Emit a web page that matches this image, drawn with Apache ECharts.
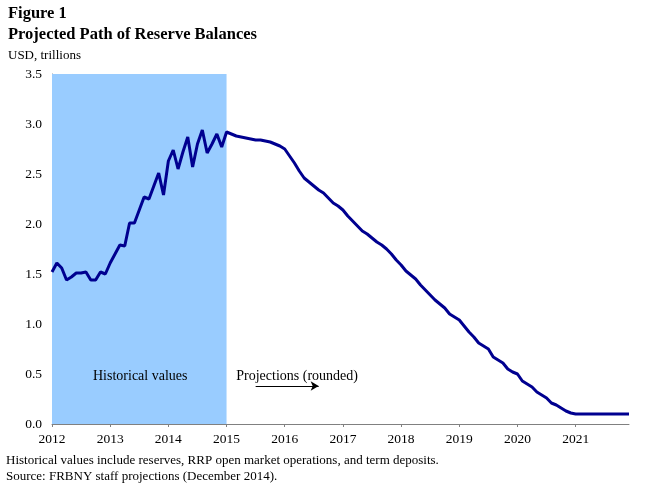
<!DOCTYPE html>
<html><head><meta charset="utf-8">
<script src="https://cdn.jsdelivr.net/npm/echarts@6/dist/echarts.min.js"></script>
<style>html,body{margin:0;padding:0;background:#fff}#c{width:660px;height:495px}</style>
</head><body><div id="c"></div>
<script>
// Monthly values, USD trillions. Month index 0 = Jan 2012.
const startYear = 2012;
const historical = [1.52,1.61,1.56,1.44,1.47,1.51,1.51,1.52,1.44,1.44,1.52,1.50,
  1.61,1.70,1.79,1.78,2.01,2.01,2.14,2.27,2.25,2.38,2.51,2.29,
  2.63,2.74,2.55,2.72,2.87,2.57,2.80,2.94,2.71,2.80,2.90,2.77];
const projection = [2.92,2.90,2.88,2.87,2.86,2.85,2.84,2.84,2.83,2.82,2.80,2.78,
  2.75,2.68,2.61,2.53,2.46,2.42,2.38,2.34,2.31,2.26,2.21,2.18,
  2.14,2.08,2.03,1.98,1.93,1.90,1.86,1.82,1.79,1.75,1.70,1.64,
  1.59,1.53,1.49,1.45,1.39,1.34,1.29,1.24,1.20,1.16,1.10,1.07,
  1.04,0.98,0.92,0.87,0.81,0.78,0.75,0.67,0.64,0.61,0.55,0.52,
  0.50,0.43,0.40,0.37,0.32,0.29,0.26,0.21,0.19,0.16,0.13,0.11,
  0.10,0.10,0.10,0.10,0.10,0.10,0.10,0.10,0.10,0.10,0.10,0.10];
const yTicks = [0,0.5,1.0,1.5,2.0,2.5,3.0,3.5];
const titleLines = ['Figure 1','Projected Path of Reserve Balances'];
const unitLabel = 'USD, trillions';
const notes = ['Historical values include reserves, RRP open market operations, and term deposits.',
  'Source: FRBNY staff projections (December 2014).'];

const values = historical.concat(projection);
const seriesData = values.map((v,i)=>[i,v]);
const histEnd = historical.length; // Jan 2015
const font = '"Liberation Serif","Times New Roman",serif';

const chart = echarts.init(document.getElementById('c'), null, {renderer:'canvas'});
chart.setOption({
  animation:false,
  backgroundColor:'#fff',
  textStyle:{fontFamily:font},
  graphic:[
    {type:'text',left:8,top:5,style:{text:titleLines[0],font:'bold 16.5px '+font,fill:'#000'}},
    {type:'text',left:8,top:26,style:{text:titleLines[1],font:'bold 16.5px '+font,fill:'#000'}},
    {type:'text',left:8,top:49,style:{text:unitLabel,font:'13px '+font,fill:'#000'}},
    {type:'text',left:6,top:454,style:{text:notes[0],font:'13px '+font,fill:'#000'}},
    {type:'text',left:6,top:470,style:{text:notes[1],font:'13px '+font,fill:'#000'}}
  ],
  grid:{left:52,right:31,top:74,bottom:71,containLabel:false},
  xAxis:{type:'value',min:0,max:values.length-1,interval:12,
    axisLine:{lineStyle:{color:'#808080',width:1}},
    axisTick:{show:true,inside:false,length:3,lineStyle:{color:'#808080'}},
    axisLabel:{color:'#000',fontSize:13.5,fontFamily:font,margin:8,
      formatter:v=>String(startYear+Math.round(v/12)),showMaxLabel:false},
    splitLine:{show:false}},
  yAxis:{type:'value',min:yTicks[0],max:yTicks[yTicks.length-1],interval:0.5,
    axisLine:{show:true,lineStyle:{color:'#808080',width:1}},
    axisTick:{show:true,inside:true,length:4,lineStyle:{color:'#808080'}},
    axisLabel:{color:'#000',fontSize:13.5,fontFamily:font,margin:10,formatter:v=>v.toFixed(1)},
    splitLine:{show:false}},
  series:[{
    type:'line',data:seriesData,showSymbol:false,symbol:'none',
    lineStyle:{color:'#000090',width:3},
    z:5,
    markArea:{silent:true,itemStyle:{color:'#99CCFF'},
      data:[[{xAxis:0,yAxis:yTicks[0]},{xAxis:histEnd,yAxis:yTicks[yTicks.length-1]}]]},
    markLine:{silent:true,symbol:['none','arrow'],symbolSize:[7,8],
      lineStyle:{color:'#000',width:1,type:'solid'},label:{show:false},
      data:[[{coord:[42,0.38]},{coord:[55,0.38]}]]},
    markPoint:{silent:true,symbol:'circle',symbolSize:0,
      data:[
        {coord:[18.2,0.48],label:{show:true,formatter:'Historical values',color:'#000',fontSize:14,fontFamily:font,position:'inside'}},
        {coord:[38,0.48],label:{show:true,formatter:'Projections (rounded)',color:'#000',fontSize:14,fontFamily:font,position:'right',distance:0}}
      ]}
  }]
});
</script></body></html>
